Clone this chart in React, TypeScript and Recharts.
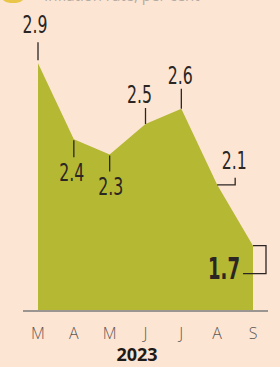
import { AreaChart, Area, XAxis, YAxis, LabelList } from 'recharts'

const months = ['M', 'A', 'M', 'J', 'J', 'A', 'S']
const rates = [2.9, 2.4, 2.3, 2.5, 2.6, 2.1, 1.7]
const yearLabel = '2023'
const titleText = 'Inflation rate, per cent'

// how each value label hangs off its point
const CALLOUTS = [
  { kind: 'up', dx: -3, base: -30, l1: -21, l2: -3 },
  { kind: 'down', dx: -2, base: 42, l1: 1, l2: 18 },
  { kind: 'down', dx: 1, base: 41, l1: 1, l2: 17 },
  { kind: 'up', dx: -6, base: -21, l1: -16, l2: 0 },
  { kind: 'up', dx: -1, base: -25, l1: -20, l2: 0 },
  { kind: 'hook', dx: 17, base: -16, l1: 0, l2: 0 },
  { kind: 'bracket', dx: -29, base: 33, l1: 0, l2: 0 },
]

const data = months.map((m, i) => ({ month: m, rate: rates[i] }))

const INK = '#2b2623'

function Callout(props: any) {
  const { x, y, value, index } = props
  const c = CALLOUTS[index]
  if (!c || x == null || y == null) return null
  const txt = String(value)
  const bold = c.kind === 'bracket'
  let path = ''
  if (c.kind === 'up' || c.kind === 'down') path = `M${x},${y + c.l1}V${y + c.l2}`
  if (c.kind === 'hook') path = `M${x},${y}H${x + 18}V${y - 7}`
  if (c.kind === 'bracket') path = `M${x},${y}H${x + 13}V${y + 28}H${x - 10}`
  return (
    <g>
      <path d={path} fill="none" stroke={INK} strokeWidth={1.3} />
      <text
        x={x + c.dx}
        y={y + c.base}
        textAnchor="middle"
        fontFamily="'Liberation Sans Narrow', 'DejaVu Sans Condensed', sans-serif"
        fontSize={bold ? 30 : 25}
        fontWeight={bold ? 700 : 400}
        fill={INK}
        textLength={bold ? 32 : 25}
        lengthAdjust="spacingAndGlyphs"
      >
        {txt}
      </text>
    </g>
  )
}

export default function App() {
  return (
    <div
      style={{
        position: 'absolute',
        left: 0,
        top: 0,
        width: 280,
        height: 367,
        background: '#fde5d3',
        overflow: 'hidden',
      }}
    >
      <div
        style={{
          position: 'absolute',
          left: 0,
          top: -17,
          width: 26,
          height: 20,
          borderRadius: 13,
          background: '#e9c64a',
        }}
      />
      <div
        style={{
          position: 'absolute',
          left: 44,
          top: -15,
          fontFamily: 'Open Sans, sans-serif',
          fontSize: 15,
          color: '#b3aca5',
          whiteSpace: 'nowrap',
        }}
      >
        {titleText}
      </div>
      <AreaChart
        width={280}
        height={367}
        data={data}
        margin={{ top: 48, right: 12, bottom: 26, left: 23 }}
      >
        <YAxis hide domain={[1.27, 3.0]} allowDataOverflow />
        <XAxis
          dataKey="month"
          height={30}
          padding={{ left: 15, right: 15 }}
          axisLine={{ stroke: '#9a9590', strokeWidth: 2 }}
          tickLine={false}
          tickMargin={11}
          tick={{ fill: '#5e5955', fontSize: 16, fontFamily: 'Open Sans, sans-serif', fontWeight: 300 }}
          interval={0}
          label={{
            content: () => (
              <text
                x={137}
                y={361}
                textAnchor="middle"
                fontFamily="'Open Sans', sans-serif"
                fontWeight={700}
                fontSize={18}
                fill="#1f1b18"
              >
                {yearLabel}
              </text>
            ),
          }}
        />
        <Area
          type="linear"
          dataKey="rate"
          stroke="none"
          fill="#b4b833"
          fillOpacity={1}
          isAnimationActive={false}
        >
          <LabelList dataKey="rate" content={Callout} />
        </Area>
      </AreaChart>
    </div>
  )
}
